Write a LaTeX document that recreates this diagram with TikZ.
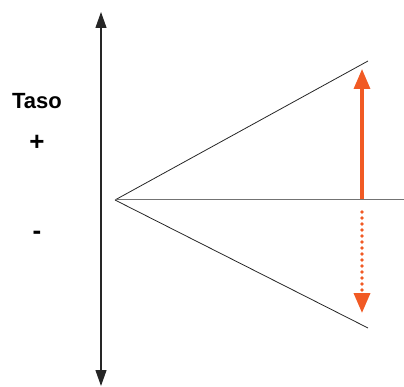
\documentclass[tikz,border=0pt]{standalone}
\usepackage{fontspec}
\setmainfont{Liberation Sans}
\usetikzlibrary{arrows.meta}
\definecolor{orng}{HTML}{F15A24}
\tikzset{
  lbl/.style={font=\bfseries\fontsize{22}{26}\selectfont, inner sep=0pt},
  axis/.style={line width=1.2pt, color=black!85, -{Triangle[length=16pt,width=11pt]}},
  ray/.style={line width=0.8pt, color=black!85},
  oarrow/.style={line width=3.2pt, color=orng, -{Triangle[length=20pt,width=16pt]}},
}
\begin{document}
\begin{tikzpicture}[x=1pt,y=-1pt]
\useasboundingbox (0,0) rectangle (404,387);
\coordinate (mid) at (101,200);
\coordinate (top) at (101,12);
\coordinate (bot) at (101,386);
\draw[axis] (mid) -- (top);
\draw[axis] (mid) -- (bot);
\coordinate (apex) at (115,200);
\coordinate (up) at (368,61);
\coordinate (dn) at (368,328);
\coordinate (rt) at (404,200);
\draw[ray] (apex) -- (up);
\draw[ray] (apex) -- (dn);
\draw[ray, color=black!55, line width=1pt] (apex) -- (rt);
\coordinate (a0) at (362,199);
\coordinate (a1) at (362,69);
\coordinate (b0) at (362,212);
\coordinate (b1) at (362,313);
\draw[oarrow] (a0) -- (a1);
\draw[oarrow, line width=3.6pt, dash pattern=on 0pt off 6pt, line cap=round] (b0) -- (b1);
\node[lbl] (taso) at (37,101) {Taso};
\node[lbl, font=\bfseries\fontsize{26}{28}\selectfont] (plus) at (37,143) {+};
\node[lbl, font=\bfseries\fontsize{26}{28}\selectfont] (minus) at (37,235) {-};
\end{tikzpicture}
\end{document}
